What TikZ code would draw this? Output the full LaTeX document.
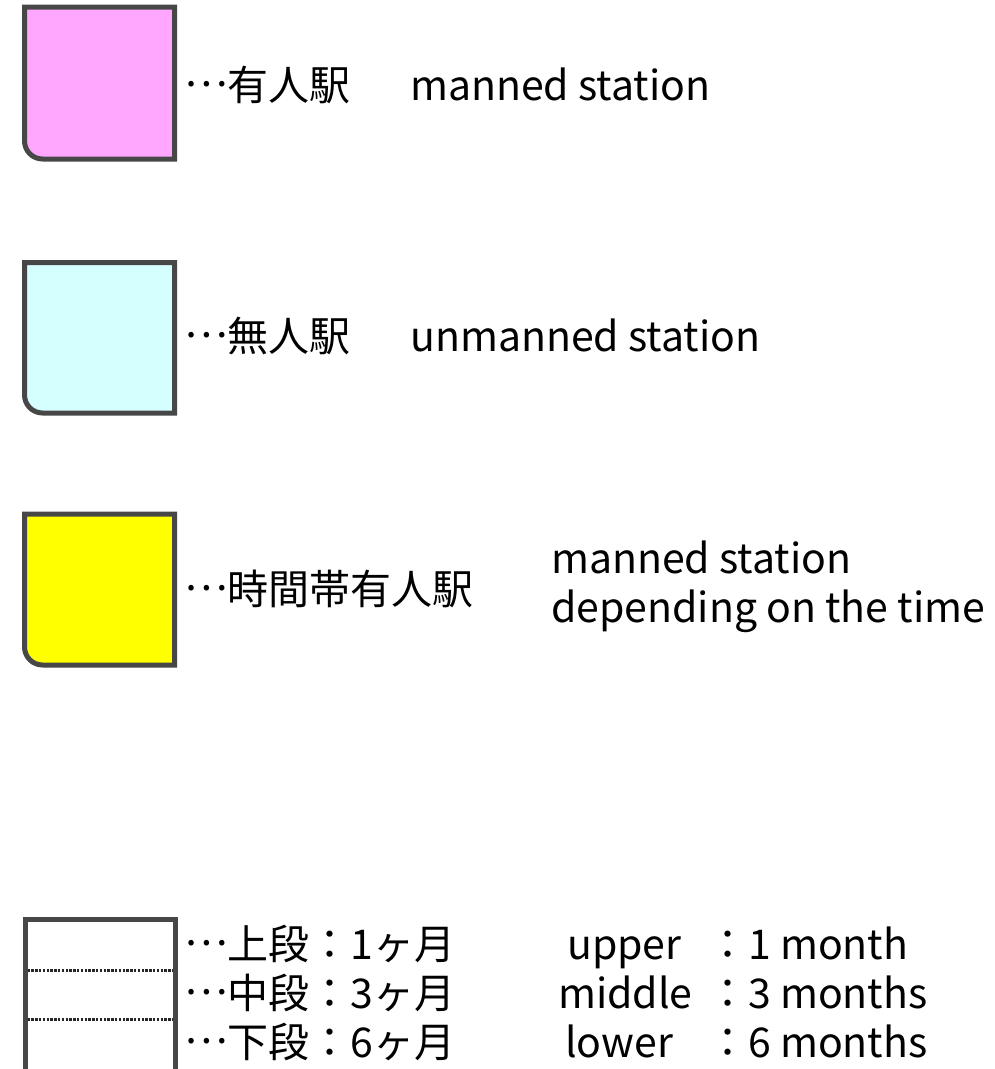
\documentclass[tikz,border=0pt]{standalone}
\usepackage{fontspec}
\setmainfont{Noto Sans CJK JP}
\newfontfamily\enfont{Noto Sans CJK JP}
\newcommand\dotsmid{\raisebox{0.32em}{…}}
\definecolor{edge}{HTML}{474747}
\definecolor{pinkfill}{HTML}{FFA6FF}
\definecolor{cyanfill}{HTML}{D5FFFF}
\definecolor{yellowfill}{HTML}{FFFF00}
\tikzset{
  jp/.style={anchor=base west, inner sep=0pt, font=\fontsize{41}{49}\selectfont},
  en/.style={anchor=base west, inner sep=0pt, font=\enfont\fontsize{41}{49}\selectfont},
  frame/.style={draw=edge, line width=5pt, line join=miter},
  sep/.style={draw=black!85, line width=3pt, dash pattern=on 2.5pt off 1.3pt}
}
\begin{document}
\begin{tikzpicture}[x=1pt,y=-1pt]
\useasboundingbox (0,0) rectangle (995,1069);
% legend boxes
\draw[frame, fill=pinkfill] (24.5,7) -- (174.5,7) -- (174.5,159) -- (42.5,159) .. controls (32.6,159) and (24.5,150.9) .. (24.5,141) -- cycle;
\draw[frame, fill=cyanfill] (24.5,262.5) -- (174.5,262.5) -- (174.5,413) -- (42.5,413) .. controls (32.6,413) and (24.5,404.9) .. (24.5,395) -- cycle;
\draw[frame, fill=yellowfill] (24.5,514) -- (174.5,514) -- (174.5,665) -- (42.5,665) .. controls (32.6,665) and (24.5,656.9) .. (24.5,647) -- cycle;
% texts
\node[jp] (j1) at (184,100) {\dotsmid 有人駅};
\node[en] (e1) at (410,100) {manned station};
\node[jp] (j2) at (184,351) {\dotsmid 無人駅};
\node[en] (e2) at (410,351) {unmanned station};
\node[jp] (j3) at (184,604) {\dotsmid 時間帯有人駅};
\node[en] (e3a) at (551,573) {manned station};
\node[en] (e3b) at (551,622) {depending on the time};
% period table
\coordinate (tl) at (25,919.5);
\coordinate (tr) at (175,919.5);
\coordinate (bl) at (25,1075);
\coordinate (br) at (175,1075);
\draw[frame] (bl) -- (tl) -- (tr) -- (br);
\coordinate (d1l) at (27.5,970);
\coordinate (d1r) at (172.5,970);
\coordinate (d2l) at (27.5,1019);
\coordinate (d2r) at (172.5,1019);
\draw[sep] (d1l) -- (d1r);
\draw[sep] (d2l) -- (d2r);
\node[jp] (p1) at (184,959) {\dotsmid 上段：1ヶ月};
\node[jp] (p2) at (184,1008) {\dotsmid 中段：3ヶ月};
\node[jp] (p3) at (184,1057) {\dotsmid 下段：6ヶ月};
\node[en] (q1) at (567,959) {upper};
\node[en] (q2) at (558,1008) {middle};
\node[en] (q3) at (565,1057) {lower};
\node[jp] (r1) at (707,959) {：{\enfont 1 month}};
\node[jp] (r2) at (707,1008) {：{\enfont 3 months}};
\node[jp] (r3) at (707,1057) {：{\enfont 6 months}};
\end{tikzpicture}
\end{document}
